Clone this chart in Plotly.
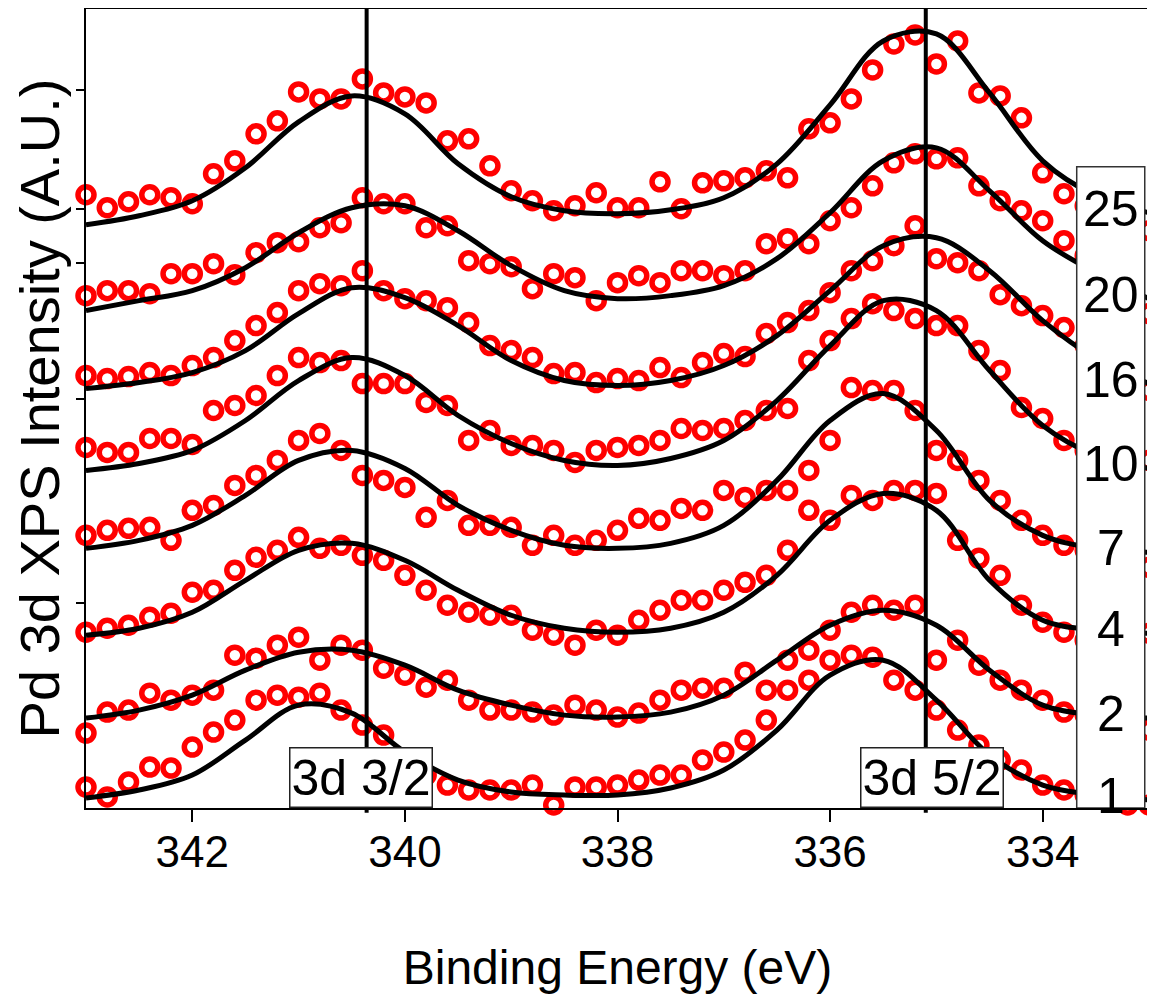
import plotly.graph_objects as go

# Binding energy grid of the measured points (eV)
energy = [343.0, 342.8, 342.6, 342.4, 342.2, 342.0, 341.8, 341.6, 341.4, 341.2,
          341.0, 340.8, 340.6, 340.4, 340.2, 340.0, 339.8, 339.6, 339.4, 339.2,
          339.0, 338.8, 338.6, 338.4, 338.2, 338.0, 337.8, 337.6, 337.4, 337.2,
          337.0, 336.8, 336.6, 336.4, 336.2, 336.0, 335.8, 335.6, 335.4, 335.2,
          335.0, 334.8, 334.6, 334.4, 334.2, 334.0, 333.8, 333.6, 333.4, 333.2, 333.0]

# Energy grid of the fitted curves (eV)
energy_fit = [343.0, 342.5, 342.0, 341.5, 341.0, 340.5, 340.0, 339.5, 339.0, 338.5,
              338.0, 337.5, 337.0, 336.5, 336.0, 335.5, 335.0, 334.5, 334.0, 333.5, 333.0]

labels = ["25", "20", "16", "10", "7", "4", "2", "1"]

# Measured intensities (offset, arbitrary units)
data_25 = [61.4, 60.1, 60.7, 61.4, 61.1, 60.5, 63.5, 64.8, 67.5, 68.8,
           71.7, 71.0, 71.0, 73.0, 71.6, 71.2, 70.6, 66.8, 67.0, 64.3,
           61.8, 60.8, 59.8, 60.3, 61.6, 60.1, 60.1, 62.7, 60.0, 62.6,
           62.8, 63.1, 63.8, 63.1, 68.0, 68.6, 71.0, 73.9, 76.5, 77.4,
           74.5, 76.8, 71.6, 71.3, 69.1, 63.6, 61.5, 60.3, 59.3, 58.8, 57.8]
data_20 = [51.3, 51.8, 51.8, 51.5, 53.5, 53.5, 54.5, 53.4, 55.6, 56.6,
           56.7, 58.1, 58.6, 61.1, 60.5, 60.5, 58.1, 58.3, 54.8, 54.5,
           54.2, 52.0, 53.5, 53.1, 50.8, 52.6, 53.3, 52.6, 53.8, 53.8,
           53.3, 53.8, 56.5, 57.0, 56.5, 58.8, 60.1, 62.3, 64.6, 65.5,
           65.0, 65.1, 62.3, 60.8, 59.8, 58.8, 56.8, 55.3, 53.8, 52.3, 49.5]
data_16 = [43.3, 43.0, 43.2, 43.6, 43.3, 44.3, 45.1, 46.8, 48.3, 49.6,
           51.8, 52.5, 52.3, 53.8, 51.8, 51.0, 50.8, 50.1, 48.6, 46.3,
           45.8, 45.1, 43.5, 43.6, 42.6, 43.0, 42.8, 44.1, 43.1, 44.6,
           45.5, 45.2, 47.5, 48.6, 49.8, 51.6, 53.8, 54.8, 56.3, 58.3,
           55.0, 54.6, 53.8, 51.4, 50.3, 49.3, 48.1, 46.3, 44.8, 43.3, 41.8]
data_10 = [36.1, 35.6, 35.6, 37.0, 37.0, 36.4, 39.8, 40.3, 41.3, 43.3,
           45.1, 44.6, 44.8, 42.5, 42.5, 42.5, 40.6, 40.3, 36.8, 37.8,
           36.3, 36.3, 35.8, 34.6, 35.8, 36.1, 36.3, 36.8, 38.0, 37.8,
           38.0, 38.8, 39.8, 40.0, 44.8, 46.8, 49.0, 50.5, 49.8, 49.0,
           48.3, 48.3, 45.8, 43.8, 40.1, 39.0, 36.8, 35.8, 34.8, 34.3, 34.8]
data_7 = [27.3, 27.8, 28.0, 28.1, 26.8, 29.8, 30.3, 32.3, 33.3, 34.8,
          36.8, 37.5, 35.8, 33.3, 32.8, 32.1, 29.1, 30.8, 28.3, 28.3,
          28.1, 26.3, 27.3, 26.3, 26.8, 27.8, 29.0, 28.8, 30.0, 29.8,
          31.8, 31.1, 31.8, 31.8, 33.8, 36.8, 42.1, 41.8, 41.8, 39.8,
          35.8, 34.8, 32.8, 30.8, 28.8, 27.3, 26.3, 25.8, 25.3, 24.8, 24.1]
data_4 = [17.6, 18.0, 18.3, 19.1, 19.5, 21.6, 21.8, 23.8, 25.1, 25.8,
          27.1, 26.0, 26.3, 25.3, 24.8, 23.3, 21.8, 20.3, 19.6, 19.3,
          19.3, 17.8, 17.3, 16.3, 17.8, 17.3, 18.8, 19.8, 20.8, 20.8,
          21.8, 22.6, 23.3, 25.8, 29.8, 28.8, 31.3, 30.8, 31.8, 31.8,
          31.5, 26.8, 25.0, 23.3, 20.3, 18.6, 17.6, 16.8, 16.3, 15.8, 17.5]
data_2 = [7.5, 9.6, 9.8, 11.5, 10.8, 11.3, 11.8, 15.3, 15.0, 16.3,
          17.1, 14.8, 16.3, 15.8, 14.0, 13.3, 12.1, 12.8, 10.8, 9.8,
          9.8, 9.6, 9.3, 10.3, 9.8, 9.1, 9.5, 10.8, 11.8, 12.0,
          12.0, 13.6, 11.8, 14.8, 15.8, 17.8, 19.6, 20.3, 19.8, 20.3,
          14.8, 16.8, 14.3, 12.8, 11.8, 10.8, 9.6, 9.3, 8.8, 8.6, 7.8]
data_1 = [2.1, 1.1, 2.6, 4.1, 4.0, 6.1, 7.6, 8.8, 10.8, 11.3,
          11.1, 11.5, 9.8, 8.3, 7.3, 4.8, 3.3, 2.3, 1.8, 1.8,
          1.8, 2.3, 0.3, 2.1, 2.1, 2.3, 2.8, 3.3, 3.3, 4.8,
          5.6, 6.8, 8.8, 11.8, 12.8, 14.8, 15.3, 15.1, 12.8, 11.8,
          9.8, 7.8, 6.3, 4.8, 3.8, 2.3, 1.8, 1.3, 0.8, 0.3, 0.3]

# Fitted envelopes (same offsets)
fit_25 = [58.4, 59.3, 60.8, 64.1, 68.7, 71.3, 69.5, 64.5, 61.2, 59.8, 59.5, 59.9, 61.1, 64.5, 70.4, 76.8, 77.5, 71.6, 64.8, 61.3, 59.6]
fit_20 = [49.8, 50.8, 51.8, 54.1, 57.6, 60.1, 60.3, 57.8, 54.3, 51.8, 51.0, 51.3, 52.3, 55.0, 59.6, 64.8, 66.1, 61.8, 56.8, 53.6, 51.0]
fit_16 = [42.0, 42.6, 43.6, 45.8, 49.5, 52.1, 51.1, 48.3, 44.8, 42.8, 42.3, 42.8, 44.3, 47.3, 51.8, 56.3, 57.1, 53.8, 48.8, 45.0, 42.5]
fit_10 = [33.8, 34.5, 35.8, 38.8, 42.8, 45.1, 43.3, 39.3, 36.5, 34.8, 34.3, 35.0, 36.8, 40.8, 46.3, 50.8, 49.8, 43.8, 38.3, 35.3, 34.0]
fit_7 = [26.0, 26.8, 28.3, 31.3, 34.8, 35.8, 34.0, 30.3, 27.8, 26.3, 26.0, 26.5, 28.3, 32.8, 38.8, 41.5, 37.8, 30.8, 27.3, 26.0, 25.6]
fit_4 = [17.3, 18.0, 19.6, 22.8, 25.8, 26.5, 24.8, 21.8, 19.3, 18.0, 17.6, 18.0, 19.6, 23.3, 28.8, 31.5, 29.8, 22.8, 18.8, 17.8, 17.5]
fit_2 = [9.0, 9.8, 11.3, 13.8, 15.6, 15.8, 14.3, 11.8, 10.3, 9.3, 9.1, 9.6, 11.3, 14.8, 18.3, 19.8, 18.3, 13.8, 10.3, 9.3, 9.0]
fit_1 = [1.0, 1.8, 3.3, 6.8, 10.3, 9.5, 5.6, 2.8, 1.6, 1.3, 1.3, 2.0, 3.8, 7.8, 13.3, 14.8, 10.8, 5.3, 2.3, 1.3, 0.8]

peak_positions = [340.36, 335.1]
peak_names = ["3d 3/2", "3d 5/2"]
peak_label_x = [340.41, 335.04]

x_ticks = [342, 340, 338, 336, 334]
y_ticks = [71.9, 60.0, 54.6, 41.0, 20.5]

measured = [data_25, data_20, data_16, data_10, data_7, data_4, data_2, data_1]
fits = [fit_25, fit_20, fit_16, fit_10, fit_7, fit_4, fit_2, fit_1]

FONT = "Liberation Sans, Arial, sans-serif"

fig = go.Figure()
for lab, ys in zip(labels, measured):
    fig.add_trace(go.Scatter(
        x=energy, y=ys, mode="markers", name=lab, showlegend=False,
        cliponaxis=False,
        marker=dict(symbol="circle-open", size=16, color="#ff0000",
                    line=dict(width=5.5, color="#ff0000"))))
for lab, ys in zip(labels, fits):
    fig.add_trace(go.Scatter(
        x=energy_fit, y=ys, mode="lines", name="fit " + lab, showlegend=False,
        cliponaxis=False, line=dict(color="black", width=5, shape="spline", smoothing=1.0)))

# vertical peak markers
for xp in peak_positions:
    fig.add_shape(type="line", xref="x", yref="paper", x0=xp, x1=xp,
                  y0=-0.006, y1=1.002, line=dict(color="black", width=4), layer="above")

# box for sample labels at the right
fig.add_shape(type="rect", xref="x", yref="y", x0=333.68, x1=333.04, y0=0, y1=64.2,
              fillcolor="white", line=dict(color="#333333", width=1.5), layer="above")
for lab, ys in zip(labels, fits):
    fig.add_annotation(x=333.36, y=ys[-1], xref="x", yref="y", text=lab, showarrow=False,
                       yshift=4, font=dict(family=FONT, size=50, color="black"))

for name, xl in zip(peak_names, peak_label_x):
    fig.add_annotation(x=xl, y=0, xref="x", yref="y", yanchor="bottom", text=name,
                       showarrow=False, bgcolor="white", bordercolor="#222222",
                       borderwidth=1.5, borderpad=1,
                       font=dict(family=FONT, size=50, color="black"))

# The page body adds an 8 px offset, so the figure is sized to sit inside the window.
fig.update_layout(
    width=1147, height=997,
    margin=dict(l=78, r=6, t=1, b=197, autoexpand=False),
    paper_bgcolor="white", plot_bgcolor="white",
    font=dict(family=FONT, color="black"),
    xaxis=dict(range=[343, 333], tickvals=x_ticks, ticks="outside", ticklen=12,
               tickwidth=2, tickcolor="black", showgrid=False, zeroline=False,
               showline=True, linecolor="black", linewidth=2, mirror=True,
               automargin=False, ticklabelstandoff=-8,
               tickfont=dict(family=FONT, size=44),
               title=dict(text="Binding Energy (eV)", font=dict(family=FONT, size=48), standoff=76)),
    yaxis=dict(range=[0, 80], tickvals=y_ticks, showticklabels=False, ticks="outside",
               ticklen=8, tickwidth=2, tickcolor="black", showgrid=False, zeroline=False,
               showline=True, linecolor="black", linewidth=2, mirror=True,
               automargin=False,
               title=dict(text="Pd 3d XPS Intensity (A.U.)", font=dict(family=FONT, size=56), standoff=5)),
)

fig.write_html("out.html")
